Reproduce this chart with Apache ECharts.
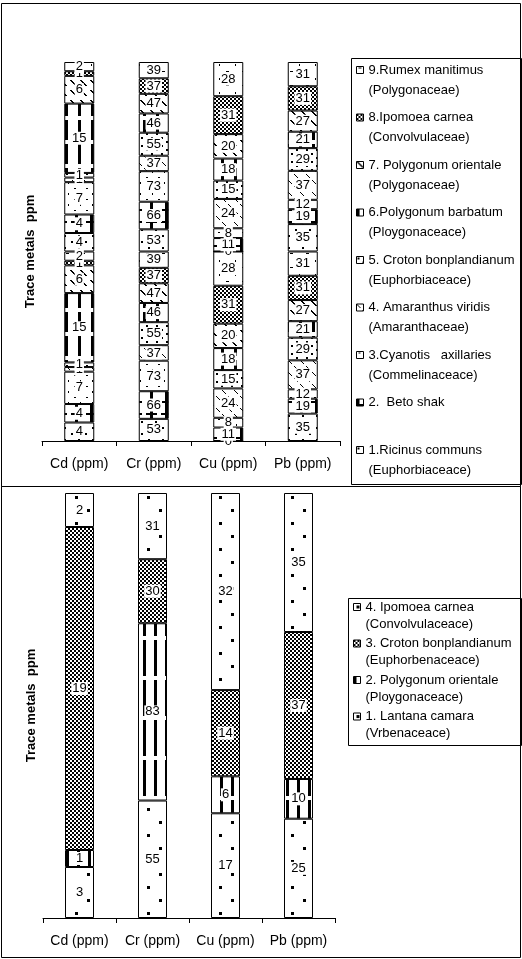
<!DOCTYPE html>
<html>
<head>
<meta charset="utf-8">
<title>Trace metals in plant species</title>
<script src="https://cdn.jsdelivr.net/npm/echarts@6.0.0/dist/echarts.min.js"></script>
<style>
  html, body { margin: 0; padding: 0; background: #fff; }
  #chart { width: 522px; height: 959px; }
</style>
</head>
<body>
<div id="chart"></div>
<script>
// Categories shared by both panels
const metals = ['Cd (ppm)', 'Cr (ppm)', 'Cu (ppm)', 'Pb (ppm)'];

// Upper panel: values per species, ordered [Cd, Cr, Cu, Pb]
const ricinus      = [4, 53, 0, 35];
const betoShak     = [4, 66, 11, 19];
const cyanotis     = [7, 73, 8, 12];
const amaranthus   = [1, 37, 24, 37];
const crotonTop    = [1, 55, 15, 29];
const barbatum     = [15, 46, 18, 21];
const orientaleTop = [6, 47, 20, 27];
const ipomoeaTop   = [1, 37, 31, 31];
const rumex        = [2, 39, 28, 31];

const topLabels = [
  '1.Ricinus communs', '2.  Beto shak', '3.Cyanotis   axillaries',
  '4. Amaranthus viridis', '5. Croton bonplandianum', '6.Polygonum barbatum',
  '7. Polygonum orientale', '8.Ipomoea carnea', '9.Rumex manitimus'
];
const topFamilies = [
  '(Euphorbiaceace)', '', '(Commelinaceace)',
  '(Amaranthaceae)', '(Euphorbiaceace)', '(Ploygonaceace)',
  '(Polygonaceae)', '(Convolvulaceae)', '(Polygonaceae)'
];

// Lower panel: values per species, ordered [Cd, Cr, Cu, Pb]
const lantana         = [3, 55, 17, 25];
const orientaleBottom = [1, 83, 6, 10];
const crotonBottom    = [19, 30, 14, 37];
const ipomoeaBottom   = [2, 31, 32, 35];

const bottomLabels = [
  '1. Lantana camara', '2. Polygonum orientale',
  '3. Croton bonplandianum', '4. Ipomoea carnea'
];
const bottomFamilies = [
  '(Vrbenaceace)', '(Ploygonaceace)', '(Euphorbenaceace)', '(Convolvulaceace)'
];

// ---- black & white hatch fills -------------------------------------------
function tile(w, h, draw) {
  const c = document.createElement('canvas');
  c.width = w; c.height = h;
  const g = c.getContext('2d');
  g.fillStyle = '#fff'; g.fillRect(0, 0, w, h);
  g.fillStyle = '#000';
  draw(g);
  return { image: c, repeat: 'repeat' };
}
const fills = {
  sparseDots: tile(14, 12, g => { g.fillRect(1, 1, 2, 2); g.fillRect(8, 7, 2, 2); }),
  crossBars: tile(15, 12, g => { g.fillRect(0, 0, 3, 12); g.fillRect(0, 5, 7, 2); g.fillRect(11, 5, 4, 2); }),
  lightDots: tile(12, 11, g => { g.fillRect(2, 1, 2, 1); g.fillRect(8, 6, 1, 2); }),
  dashDiag: tile(12, 12, g => { for (let i = 0; i < 4; i++) { g.fillRect(i, i, 1, 1); g.fillRect(6 + i, 6 + i, 1, 1); } }),
  smallDots: tile(10, 8, g => { g.fillRect(1, 1, 2, 2); g.fillRect(6, 5, 2, 2); }),
  vBars: tile(13, 24, g => { g.fillRect(0, 0, 3, 20); }),
  wideDiag: tile(10, 10, g => { for (let i = 0; i < 6; i++) g.fillRect(i, i, 2, 1); }),
  checker: tile(4, 4, g => { g.fillRect(0, 0, 2, 2); g.fillRect(2, 2, 2, 2); }),
  ticks: tile(16, 14, g => { g.fillRect(2, 1, 3, 1); g.fillRect(11, 8, 1, 2); }),
  bigDots: tile(24, 26, g => { g.fillRect(3, 2, 3, 3); g.fillRect(15, 15, 3, 3); }),
  twinBars: tile(11, 40, g => { g.fillRect(0, 0, 3, 36); }),
  checkerB: tile(4, 4, g => { g.fillRect(0, 0, 2, 2); g.fillRect(2, 2, 2, 2); })
};

const FONT = 'Liberation Sans, Arial, sans-serif';

const topSpecies = [
  { values: ricinus, fill: fills.sparseDots },
  { values: betoShak, fill: fills.crossBars },
  { values: cyanotis, fill: fills.lightDots },
  { values: amaranthus, fill: fills.dashDiag },
  { values: crotonTop, fill: fills.smallDots },
  { values: barbatum, fill: fills.vBars },
  { values: orientaleTop, fill: fills.wideDiag },
  { values: ipomoeaTop, fill: fills.checker },
  { values: rumex, fill: fills.ticks }
].map((s, i) => Object.assign(s, { name: topLabels[i] }));

const bottomSpecies = [
  { values: lantana, fill: fills.bigDots },
  { values: orientaleBottom, fill: fills.twinBars },
  { values: crotonBottom, fill: fills.checkerB },
  { values: ipomoeaBottom, fill: fills.bigDots }
].map((s, i) => Object.assign(s, { name: bottomLabels[i] }));

// 100% stacked columns; the upper panel stacks the species set twice
function stackSeries(speciesList, repeats, gridIndex, barWidth) {
  const totals = metals.map((_, k) =>
    repeats * speciesList.reduce((acc, s) => acc + s.values[k], 0));
  const out = [];
  for (let r = 0; r < repeats; r++) {
    speciesList.forEach(s => {
      out.push({
        type: 'bar',
        name: s.name,
        stack: 'panel' + gridIndex,
        xAxisIndex: gridIndex,
        yAxisIndex: gridIndex,
        barWidth: barWidth,
        data: s.values.map((v, k) => v / totals[k] * 100),
        itemStyle: { color: s.fill, borderColor: '#000', borderWidth: 1 },
        label: {
          show: true,
          position: 'inside',
          formatter: p => String(s.values[p.dataIndex]),
          color: '#000',
          fontSize: 13,
          fontFamily: FONT,
          backgroundColor: '#fff',
          padding: [0, 1]
        },
        emphasis: { disabled: true }
      });
    });
  }
  return out;
}

// Legend entries: species name on the icon row, family on the row below.
// A blank leading row keeps the icon level with the species name.
function legendFor(labels, families, left, top, lineH, spacing) {
  const fam = {};
  labels.forEach((l, i) => { fam[l] = families[i] || ' '; });
  return {
    orient: 'vertical',
    left: left,
    top: top,
    padding: 0,
    itemGap: spacing - 3 * lineH,
    itemWidth: 7,
    itemHeight: 7,
    icon: 'rect',
    selectedMode: false,
    data: labels.slice().reverse(),
    formatter: name => ' \n' + name + '\n' + fam[name],
    itemStyle: { borderColor: '#000', borderWidth: 1 },
    textStyle: {
      color: '#000', fontSize: 13, fontFamily: FONT, lineHeight: lineH
    }
  };
}

const axisX = gridIndex => ({
  gridIndex: gridIndex,
  type: 'category',
  data: metals,
  axisLine: { lineStyle: { color: '#000', width: 1 } },
  axisTick: { show: true, length: 5, lineStyle: { color: '#000' } },
  axisLabel: { color: '#000', fontSize: 14, fontFamily: FONT, margin: 16, interval: 0 }
});
const axisY = gridIndex => ({
  gridIndex: gridIndex,
  type: 'value',
  min: 0, max: 100,
  axisLine: { show: false },
  axisTick: { show: false },
  axisLabel: { show: false },
  splitLine: { show: false },
  name: 'Trace metals  ppm',
  nameLocation: 'middle',
  nameRotate: 90,
  nameGap: 5,
  nameTextStyle: { color: '#000', fontWeight: 'bold', fontSize: 13, fontFamily: FONT }
});

const frame = (x, y, w, h) => ({
  type: 'rect', silent: true,
  shape: { x: x, y: y, width: w, height: h },
  style: { fill: null, stroke: '#000', lineWidth: 1 }
});

const option = {
  animation: false,
  backgroundColor: '#fff',
  textStyle: { fontFamily: FONT },
  grid: [
    { left: 42, top: 62, width: 298, height: 379 },
    { left: 43, top: 493, width: 292, height: 425 }
  ],
  xAxis: [axisX(0), axisX(1)],
  yAxis: [axisY(0), axisY(1)],
  legend: [
    legendFor(topLabels, topFamilies, 356, 40, 20, 47.5),
    legendFor(bottomLabels, bottomFamilies, 353, 581.5, 17, 36.5)
  ],
  graphic: [
    frame(1.5, 3.5, 519, 483),
    frame(1.5, 486.5, 519, 471),
    frame(351.5, 58.5, 170, 426),
    frame(348.5, 598.5, 173, 147)
  ],
  series: stackSeries(topSpecies, 2, 0, 30).concat(stackSeries(bottomSpecies, 1, 1, 29))
};

const chart = echarts.init(document.getElementById('chart'), null, { renderer: 'canvas' });
chart.setOption(option);
</script>
</body>
</html>
